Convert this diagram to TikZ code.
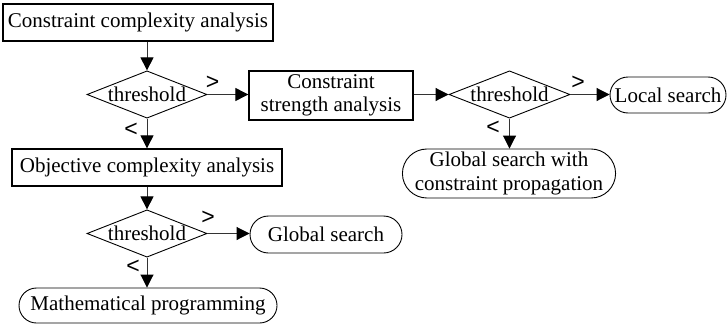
\documentclass[tikz,border=0pt]{standalone}
\usepackage{fontspec}
\setmainfont{Liberation Serif}
\newfontfamily\cmpfont{Liberation Sans}
\usetikzlibrary{arrows.meta,shapes.geometric,shapes.misc}

\tikzset{
  base/.style={font=\fontsize{21}{23.5}\selectfont, inner sep=0pt, align=center},
  procbox/.style={base, draw, line width=1.3pt, rectangle},
  term/.style={base, draw, line width=0.9pt, rounded rectangle},
  decide/.style={base, draw, line width=0.9pt, diamond, aspect=2.4,
                 minimum width=120pt, minimum height=47pt},
  flow/.style={draw=black!80, line width=0.9pt,
               -{Triangle[length=13pt,width=13pt,color=black]}},
  cmp/.style={font=\cmpfont\fontsize{23}{25}\selectfont, inner sep=0pt}
}

\begin{document}
\begin{tikzpicture}[x=1pt,y=-1pt]
  \useasboundingbox (0,0) rectangle (727,324);

  % analysis steps
  \node[procbox, minimum width=270pt, minimum height=37pt] (cca) at (138,22.5)
    {Constraint complexity analysis};
  \node[decide] (t1) at (147,94.5) {threshold};
  \node[procbox, minimum width=164pt, minimum height=49pt] (csa) at (331,95.5)
    {Constraint\\strength analysis};
  \node[decide, minimum width=121pt, minimum height=45pt] (t2) at (509.5,94.5) {threshold};
  \node[procbox, minimum width=270pt, minimum height=37pt] (oca) at (147,167.5)
    {Objective complexity analysis};
  \node[decide] (t3) at (147,233.5) {threshold};

  % outcomes
  \node[term, minimum width=116pt, minimum height=36pt] (ls) at (668,95) {Local search};
  \node[term, minimum width=212pt, minimum height=49pt] (gcp) at (509,173.5)
    {Global search with\\constraint propagation};
  \node[term, minimum width=152pt, minimum height=37pt] (gs) at (326,234.5) {Global search};
  \node[term, minimum width=258pt, minimum height=35pt] (mp) at (148,305.5)
    {Mathematical programming};

  % connectors
  \draw[flow] (cca.south -| t1.north) -- (t1.north);
  \draw[flow] (t1.east) -- (t1.east -| csa.west);
  \draw[flow] (csa.east |- t2.west) -- (t2.west);
  \draw[flow] (t2.east) -- (t2.east -| ls.west);
  \draw[flow] (t2.south) -- (gcp.north -| t2.south);
  \draw[flow] (t1.south) -- (oca.north -| t1.south);
  \draw[flow] (oca.south -| t3.north) -- (t3.north);
  \draw[flow] (t3.east) -- (t3.east -| gs.west);
  \draw[flow] (t3.south) -- (mp.north -| t3.south);

  % comparison labels
  \node[cmp] (g1) at (212.5,83) {>};
  \node[cmp] (l1) at (131,129.5) {<};
  \node[cmp] (g2) at (578,83) {>};
  \node[cmp] (l2) at (493,128) {<};
  \node[cmp] (g3) at (208,218) {>};
  \node[cmp] (l3) at (133,267) {<};
\end{tikzpicture}
\end{document}
